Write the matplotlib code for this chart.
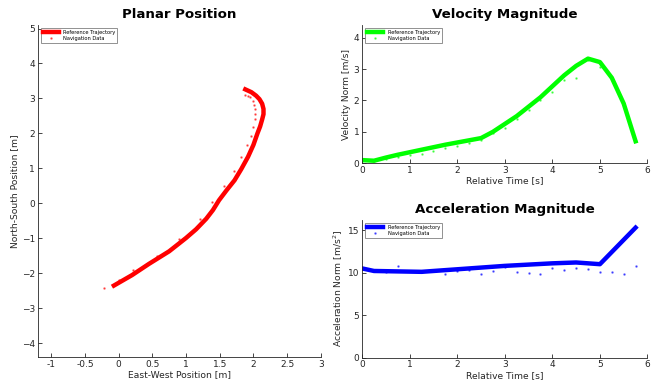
import numpy as np
import matplotlib
matplotlib.use("Agg")
import matplotlib.pyplot as plt

# planar position (east, north) [m]
ref_east = [-0.07, 0.2, 0.45, 0.75, 1.0, 1.15, 1.3, 1.4, 1.49, 1.6, 1.72, 1.82, 1.92, 2.0, 2.06,
            2.1, 2.13, 2.15, 2.15, 2.13, 2.09, 2.04, 1.97, 1.88]
ref_north = [-2.35, -2.05, -1.73, -1.37, -0.99, -0.74, -0.44, -0.19, 0.09, 0.37, 0.66, 0.98, 1.33, 1.67, 2.0,
             2.2, 2.4, 2.55, 2.7, 2.85, 2.98, 3.08, 3.18, 3.26]
nav_east = [-0.22, 0.0, 0.22, 0.57, 0.9, 1.21, 1.39, 1.56, 1.71, 1.82, 1.91, 1.97, 1.99,
            2.02, 2.02, 2.02, 2.01, 1.99, 1.95, 1.92, 1.88]
nav_north = [-2.42, -2.19, -1.9, -1.49, -1.01, -0.44, 0.04, 0.5, 0.93, 1.33, 1.68, 1.93, 2.19,
             2.41, 2.57, 2.7, 2.82, 2.92, 3.03, 3.07, 3.1]

# time axis [s]
t = [0, 0.25, 0.5, 0.75, 1.0, 1.25, 1.5, 1.75, 2.0, 2.25, 2.5, 2.75, 3.0, 3.25,
     3.5, 3.75, 4.0, 4.25, 4.5, 4.75, 5.0, 5.25, 5.5, 5.75]

vel_ref = [0.1, 0.08, 0.18, 0.27, 0.35, 0.43, 0.51, 0.59, 0.66, 0.73, 0.8, 1.0, 1.25, 1.5,
           1.8, 2.1, 2.45, 2.8, 3.1, 3.33, 3.22, 2.72, 1.9, 0.7]
vel_nav = [0.08, 0.07, 0.12, 0.2, 0.25, 0.3, 0.4, 0.5, 0.55, 0.65, 0.73, 0.95, 1.13, 1.4,
           1.7, 2.0, 2.28, 2.65, 2.7, 3.3, 3.05, 2.7, 1.9, 0.7]

acc_ref_t = [0, 0.25, 1.25, 2.0, 3.0, 4.0, 4.5, 5.0, 5.75]
acc_ref = [10.5, 10.2, 10.1, 10.4, 10.8, 11.1, 11.2, 11.0, 15.3]
acc_nav = [10.4, 10.2, 10.1, 10.8, 10.2, 10.1, 10.2, 9.9, 10.2, 10.3, 9.9, 10.2, 10.7, 10.1,
           10.0, 9.9, 10.6, 10.3, 10.6, 10.4, 10.1, 10.1, 9.9, 10.8]

plt.rcParams['font.family'] = 'DejaVu Sans'
plt.rcParams['axes.edgecolor'] = '0.15'
plt.rcParams['xtick.color'] = '0.15'
plt.rcParams['ytick.color'] = '0.15'
plt.rcParams['xtick.direction'] = 'in'
plt.rcParams['ytick.direction'] = 'in'

fig = plt.figure(figsize=(6.56, 3.85), dpi=100)
ax1 = fig.add_axes([0.0575, 0.072, 0.4315, 0.863])
ax2 = fig.add_axes([0.552, 0.576, 0.435, 0.359])
ax3 = fig.add_axes([0.552, 0.071, 0.435, 0.3576])


def style(ax, title, xlabel, ylabel):
    ax.set_title(title, fontsize=9.6, fontweight='bold', pad=5)
    ax.set_xlabel(xlabel, fontsize=6.6, color='0.15', labelpad=1)
    ax.set_ylabel(ylabel, fontsize=6.6, color='0.15', labelpad=2)
    ax.tick_params(labelsize=6.5, length=3, width=0.6, pad=2)
    ax.spines['top'].set_visible(False)
    ax.spines['right'].set_visible(False)
    for s in ['left', 'bottom']:
        ax.spines[s].set_linewidth(0.6)
    leg = ax.legend(loc='upper left', fontsize=3.7, fancybox=False, framealpha=1,
                    edgecolor='0.5', borderaxespad=0.6, handlelength=3.2,
                    borderpad=0.35, labelspacing=0.25)
    leg.get_frame().set_linewidth(0.6)


ax1.plot(ref_east, ref_north, color='red', lw=3.2, label='Reference Trajectory', solid_joinstyle='round')
ax1.plot(nav_east, nav_north, '.', color='red', ms=1.6, alpha=0.55, label='Navigation Data')
ax1.set_xlim(-1.2, 3)
ax1.set_ylim(-4.4, 5.1)
ax1.set_xticks([-1, -0.5, 0, 0.5, 1, 1.5, 2, 2.5, 3])
ax1.set_xticklabels(['-1', '-0.5', '0', '0.5', '1', '1.5', '2', '2.5', '3'])
ax1.set_yticks(range(-4, 6))
style(ax1, 'Planar Position', 'East-West Position [m]', 'North-South Position [m]')

ax2.plot(t, vel_ref, color='#00ff00', lw=3.2, label='Reference Trajectory')
ax2.plot(t, vel_nav, '.', color='#00ff00', ms=1.6, alpha=0.55, label='Navigation Data')
ax2.set_xlim(0, 6)
ax2.set_ylim(0, 4.4)
ax2.set_yticks([0, 1, 2, 3, 4])
style(ax2, 'Velocity Magnitude', 'Relative Time [s]', 'Velocity Norm [m/s]')

ax3.plot(acc_ref_t, acc_ref, color='blue', lw=3.2, label='Reference Trajectory')
ax3.plot(t, acc_nav, '.', color='blue', ms=1.6, alpha=0.55, label='Navigation Data')
ax3.set_xlim(0, 6)
ax3.set_ylim(0, 16.2)
ax3.set_yticks([0, 5, 10, 15])
style(ax3, 'Acceleration Magnitude', 'Relative Time [s]', 'Acceleration Norm [m/s$^2$]')

fig.savefig('out.png', dpi=100)
